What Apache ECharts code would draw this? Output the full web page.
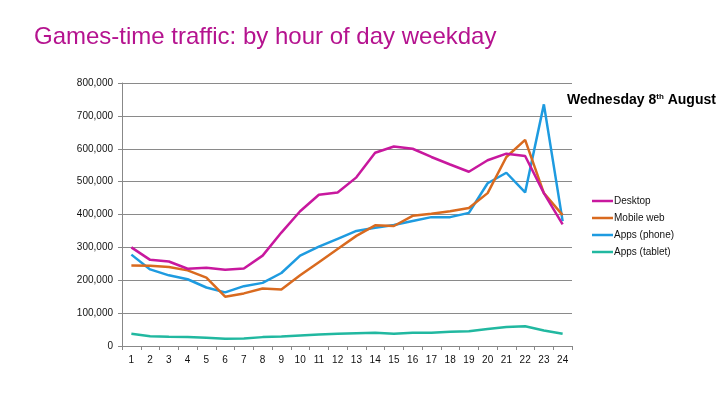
<!DOCTYPE html>
<html>
<head>
<meta charset="utf-8">
<script src="https://cdn.jsdelivr.net/npm/echarts@6/dist/echarts.min.js"></script>
<style>
  html, body { margin: 0; padding: 0; background: #fff; }
  #chart { width: 728px; height: 410px; }
</style>
</head>
<body>
<div id="chart"></div>
<script>
// hours of the day
const hours = ['1','2','3','4','5','6','7','8','9','10','11','12','13','14','15','16','17','18','19','20','21','22','23','24'];

// traffic per hour
const desktop = [300000, 262000, 257000, 235000, 238000, 232000, 236000, 275000, 345000, 410000, 460000, 467000,
  513000, 588000, 607000, 600000, 575000, 552000, 530000, 565000, 585000, 578000, 465000, 370000];
const mobileWeb = [245000, 244000, 240000, 230000, 208000, 150000, 160000, 175000, 172000, 215000, 255000, 295000,
  335000, 367000, 365000, 396000, 402000, 410000, 420000, 465000, 575000, 627000, 465000, 398000];
const appsPhone = [278000, 233000, 215000, 203000, 178000, 163000, 182000, 192000, 222000, 275000, 302000, 326000,
  350000, 360000, 368000, 380000, 392000, 392000, 405000, 495000, 527000, 467000, 735000, 380000];
const appsTablet = [37000, 30000, 28000, 27000, 25000, 22000, 23000, 27000, 29000, 32000, 35000, 37000,
  39000, 40000, 37000, 40000, 40000, 43000, 45000, 52000, 58000, 60000, 47000, 37000];

const seriesNames = ['Desktop', 'Mobile web', 'Apps (phone)', 'Apps (tablet)'];
const colors = ['#C8189E', '#D96A1F', '#1E9BE0', '#21B8A0'];

const chart = echarts.init(document.getElementById('chart'));

const mkLine = (name, data, i) => ({
  name,
  type: 'line',
  data,
  symbol: 'none',
  smooth: false,
  lineStyle: { width: 2.5, color: colors[i] },
  itemStyle: { color: colors[i] },
  z: 10 - i
});

chart.setOption({
  animation: false,
  textStyle: { fontFamily: 'Liberation Sans, Arial, sans-serif' },
  title: {
    text: 'Games-time traffic: by hour of day weekday',
    left: 29,
    top: 20,
    textStyle: { color: '#B5138F', fontSize: 24, fontWeight: 'normal', fontFamily: 'Liberation Sans, Arial, sans-serif' }
  },
  graphic: [{
    type: 'text',
    left: 567,
    top: 93,
    style: {
      text: '{a|Wednesday 8}{s|th}{a| August}',
      rich: {
        a: { fontSize: 14, fontWeight: 'bold', fill: '#000', fontFamily: 'Liberation Sans, Arial, sans-serif' },
        s: { fontSize: 8, fontWeight: 'bold', fill: '#000', verticalAlign: 'top', padding: [0, 0, 6, 0], fontFamily: 'Liberation Sans, Arial, sans-serif' }
      }
    }
  }],
  legend: {
    orient: 'vertical',
    left: 587,
    top: 191,
    icon: 'rect',
    itemWidth: 21,
    itemHeight: 2.5,
    itemGap: 7,
    data: seriesNames,
    textStyle: { fontSize: 10, color: '#111', padding: [0, 0, 0, -4] }
  },
  grid: { left: 122, top: 83, width: 450, height: 263, containLabel: false },
  xAxis: {
    type: 'category',
    data: hours,
    boundaryGap: true,
    axisLine: { lineStyle: { color: '#888', width: 1 } },
    axisTick: { show: true, length: 4, lineStyle: { color: '#888' } },
    axisLabel: { color: '#111', fontSize: 10, margin: 9 }
  },
  yAxis: {
    type: 'value',
    min: 0,
    max: 800000,
    interval: 100000,
    axisLine: { show: true, lineStyle: { color: '#888', width: 1 } },
    axisTick: { show: true, length: 4, lineStyle: { color: '#888' } },
    axisLabel: {
      color: '#111',
      fontSize: 10,
      margin: 9,
      formatter: v => v.toLocaleString('en-US')
    },
    splitLine: { lineStyle: { color: '#8a8a8a', width: 1 } }
  },
  series: [
    mkLine(seriesNames[0], desktop, 0),
    mkLine(seriesNames[1], mobileWeb, 1),
    mkLine(seriesNames[2], appsPhone, 2),
    mkLine(seriesNames[3], appsTablet, 3)
  ]
});
</script>
</body>
</html>
